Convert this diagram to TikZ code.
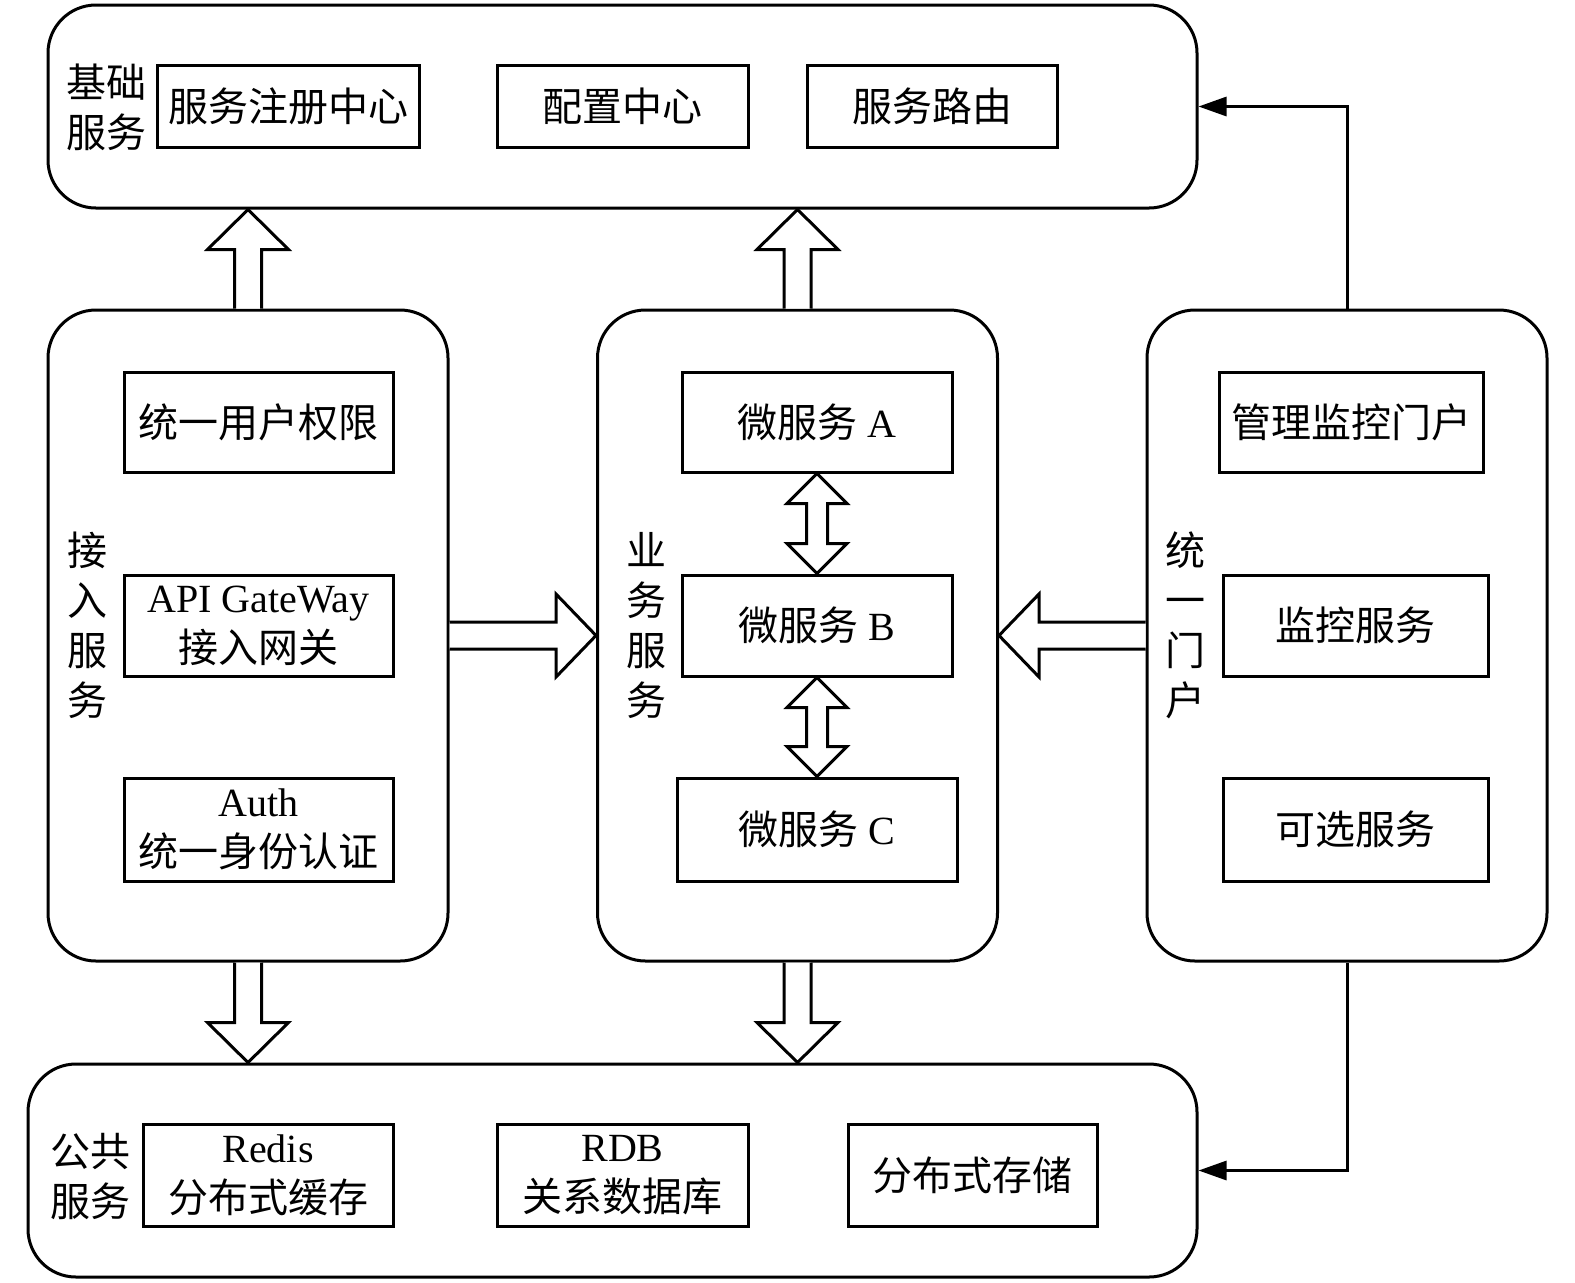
\documentclass[tikz,border=0pt]{standalone}
\usepackage{fontspec}
\setmainfont{Liberation Serif}
\newfontfamily\cjk{Noto Sans CJK SC}
\usetikzlibrary{calc,arrows.meta}
% block arrows: #1 = base point, #2 = tip point
\newcommand{\blkup}[2]{\draw[blk] ($(#1)+(-13.5,0)$) -- ($(#2)+(-13.5,40)$) -- ($(#2)+(-40.5,40)$) -- (#2) -- ($(#2)+(40.5,40)$) -- ($(#2)+(13.5,40)$) -- ($(#1)+(13.5,0)$);}
\newcommand{\blkdown}[2]{\draw[blk] ($(#1)+(-13.5,0)$) -- ($(#2)+(-13.5,-40)$) -- ($(#2)+(-40.5,-40)$) -- (#2) -- ($(#2)+(40.5,-40)$) -- ($(#2)+(13.5,-40)$) -- ($(#1)+(13.5,0)$);}
\newcommand{\blkright}[2]{\draw[blk] ($(#1)+(0,-13.5)$) -- ($(#2)+(-40,-13.5)$) -- ($(#2)+(-40,-41.5)$) -- (#2) -- ($(#2)+(-40,41.5)$) -- ($(#2)+(-40,13.5)$) -- ($(#1)+(0,13.5)$);}
\newcommand{\blkleft}[2]{\draw[blk] ($(#1)+(0,-13.5)$) -- ($(#2)+(40,-13.5)$) -- ($(#2)+(40,-41.5)$) -- (#2) -- ($(#2)+(40,41.5)$) -- ($(#2)+(40,13.5)$) -- ($(#1)+(0,13.5)$);}
\newcommand{\blkdbl}[2]{\draw[blk] (#1) -- ($(#1)+(-30,30)$) -- ($(#1)+(-10.5,30)$) -- ($(#2)+(-10.5,-30)$) -- ($(#2)+(-30,-30)$) -- (#2) -- ($(#2)+(30,-30)$) -- ($(#2)+(10.5,-30)$) -- ($(#1)+(10.5,30)$) -- ($(#1)+(30,30)$) -- cycle;}
\begin{document}
\begin{tikzpicture}[x=0.5pt,y=-0.5pt,
  outer/.style={draw, line width=1.5pt, rounded corners=24pt, inner sep=0pt},
  box/.style={draw, line width=1.5pt, inner sep=0pt, align=center, font=\fontsize{20}{25}\selectfont},
  lbl/.style={align=center, font=\fontsize{20}{25}\selectfont\cjk, inner sep=0pt},
  blk/.style={line width=1.5pt, line join=miter, fill=white},
  link/.style={line width=1.5pt, -{Triangle[length=14pt,width=9.5pt]}}]
\useasboundingbox (0,0) rectangle (1575,1282);
% outer groups
\node[outer, minimum width=574.5pt, minimum height=101.5pt] (T) at (622.5,106.5) {};
\node[outer, minimum width=200pt, minimum height=325.5pt] (L) at (248,635.5) {};
\node[outer, minimum width=200pt, minimum height=325.5pt] (M) at (797.5,635.5) {};
\node[outer, minimum width=200pt, minimum height=325.5pt] (R) at (1347,635.5) {};
\node[outer, minimum width=584.5pt, minimum height=106.5pt] (B) at (612.5,1170.5) {};
% top row
\node[box, minimum width=131pt, minimum height=41pt] (reg) at (288,106) {\cjk 服务注册中心};
\node[box, minimum width=125.5pt, minimum height=41pt] (cfg) at (622.5,106) {\cjk 配置中心};
\node[box, minimum width=125pt, minimum height=41pt] (route) at (932,106) {\cjk 服务路由};
\node[lbl] (lbase) at (106,107) {基础\\服务};
% left column
\node[box, minimum width=134.5pt, minimum height=50pt] (uam) at (258.5,422) {\cjk 统一用户权限};
\node[box, minimum width=134.5pt, minimum height=50.5pt] (gw) at (258.5,625.5) {API GateWay\\{\cjk 接入网关}};
\node[box, minimum width=134.5pt, minimum height=51.5pt] (auth) at (258.5,829.5) {Auth\\{\cjk 统一身份认证}};
\node[lbl] (lacc) at (88,625.5) {接\\入\\服\\务};
% middle column
\node[box, minimum width=135pt, minimum height=50pt] (msa) at (817,422) {{\cjk 微服务} A};
\node[box, minimum width=135pt, minimum height=50.5pt] (msb) at (817,625.5) {{\cjk 微服务} B};
\node[box, minimum width=140pt, minimum height=51.5pt] (msc) at (817,829.5) {{\cjk 微服务} C};
\node[lbl] (lbiz) at (646,625.5) {业\\务\\服\\务};
% right column
\node[box, minimum width=132pt, minimum height=50pt] (portal) at (1351,422) {\cjk 管理监控门户};
\node[box, minimum width=132.5pt, minimum height=50.5pt] (mon) at (1355.5,625.5) {\cjk 监控服务};
\node[box, minimum width=132.5pt, minimum height=51.5pt] (opt) at (1355.5,829.5) {\cjk 可选服务};
\node[lbl] (lport) at (1185,625.5) {统\\一\\门\\户};
% bottom row
\node[box, minimum width=125pt, minimum height=51pt] (redis) at (268,1175) {Redis\\{\cjk 分布式缓存}};
\node[box, minimum width=125.5pt, minimum height=51pt] (rdb) at (622.5,1175) {RDB\\{\cjk 关系数据库}};
\node[box, minimum width=124.5pt, minimum height=51pt] (dfs) at (972.5,1175) {\cjk 分布式存储};
\node[lbl] (lpub) at (90,1176) {公共\\服务};
% block arrows
\blkup{L.north}{L.north |- T.south}
\blkup{M.north}{M.north |- T.south}
\blkdown{L.south}{L.south |- B.north}
\blkdown{M.south}{M.south |- B.north}
\blkright{L.east}{M.west}
\blkleft{R.west}{M.east}
\blkdbl{msa.south}{msb.north}
\blkdbl{msb.south}{msc.north}
% thin links
\draw[link] (R.north) |- (T.east);
\draw[link] (R.south) |- (B.east);
\end{tikzpicture}
\end{document}
